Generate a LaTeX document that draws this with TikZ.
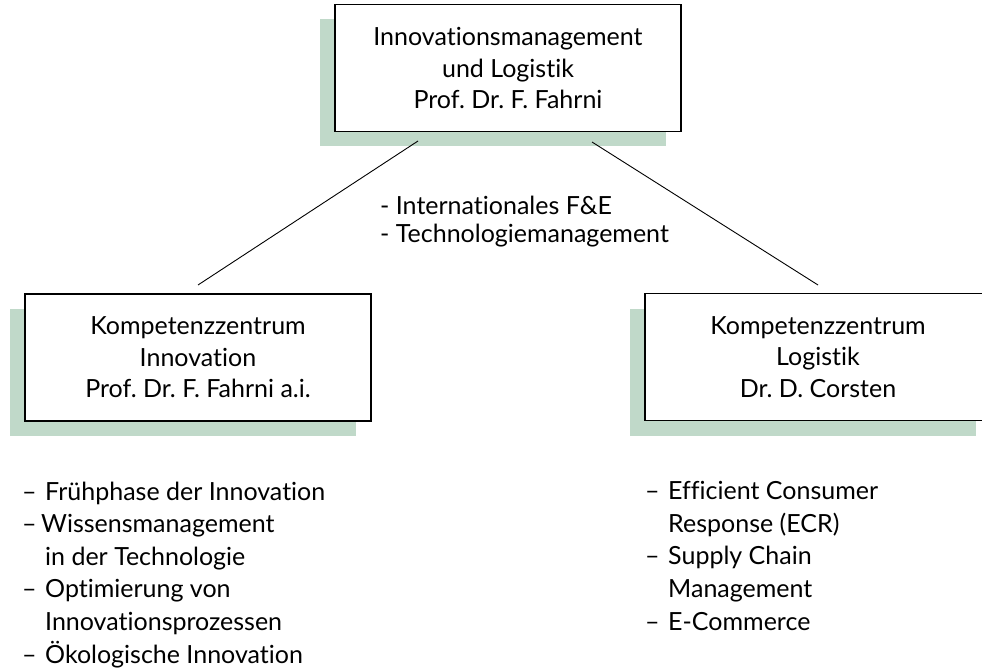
\documentclass[tikz,border=0pt]{standalone}
\usepackage{fontspec}
\setmainfont{Lato}[Ligatures={NoCommon}]
\usetikzlibrary{shadows}
\definecolor{shadowgreen}{RGB}{192,217,201}
\newcommand\dashitem[1][23pt]{\makebox[#1][l]{–}}
\newcommand\contitem{\hspace*{23pt}}
\frenchspacing
\begin{document}
\begin{tikzpicture}[x=1pt,y=-1pt,
  box/.style={draw=black, line width=1.1pt, fill=white,
    minimum width=346pt, minimum height=127pt, inner sep=0pt,
    align=center, font=\fontsize{25}{31.5}\selectfont,
    drop shadow={shadow xshift=-15.5pt, shadow yshift=-15pt, fill=shadowgreen, opacity=1}},
  link/.style={draw=black, line width=0.9pt},
  listtext/.style={anchor=base west, align=left, inner sep=0pt,
    font=\fontsize{25}{32.6}\selectfont},
  midtext/.style={anchor=base west, align=left, inner sep=0pt,
    font=\fontsize{25}{28.5}\selectfont},
]
\useasboundingbox (0,0) rectangle (982,668);
\clip (0,0) rectangle (982,668);

\node[box] (top) at (508,68) {Innovationsmanagement\\und Logistik\\Prof. Dr. F. Fahrni};
\node[box] (left) at (198,357.5) {Kompetenzzentrum\\Innovation\\Prof. Dr. F. Fahrni a.i.};
\node[box] (right) at (818,357) {Kompetenzzentrum\\Logistik\\Dr. D. Corsten};

\coordinate (tl) at (418,141);
\coordinate (tr) at (592,142);
\coordinate (lt) at (198,285);
\coordinate (rt) at (818,285);
\draw[link] (tl) -- (lt);
\draw[link] (tr) -- (rt);

\node[midtext] (mid) at (380,243) {- Internationales F\&E\\- Technologiemanagement};

\node[listtext] (leftlist) at (22,663) {\dashitem Frühphase der Innovation\\
\dashitem[19pt]Wissensmanagement\\
\contitem in der Technologie\\
\dashitem Optimierung von\\
\contitem Innovationsprozessen\\
\dashitem Ökologische Innovation};

\node[listtext] (rightlist) at (645,630) {\dashitem Efficient Consumer\\
\contitem Response (ECR)\\
\dashitem Supply Chain\\
\contitem Management\\
\dashitem E-Commerce};
\end{tikzpicture}
\end{document}
